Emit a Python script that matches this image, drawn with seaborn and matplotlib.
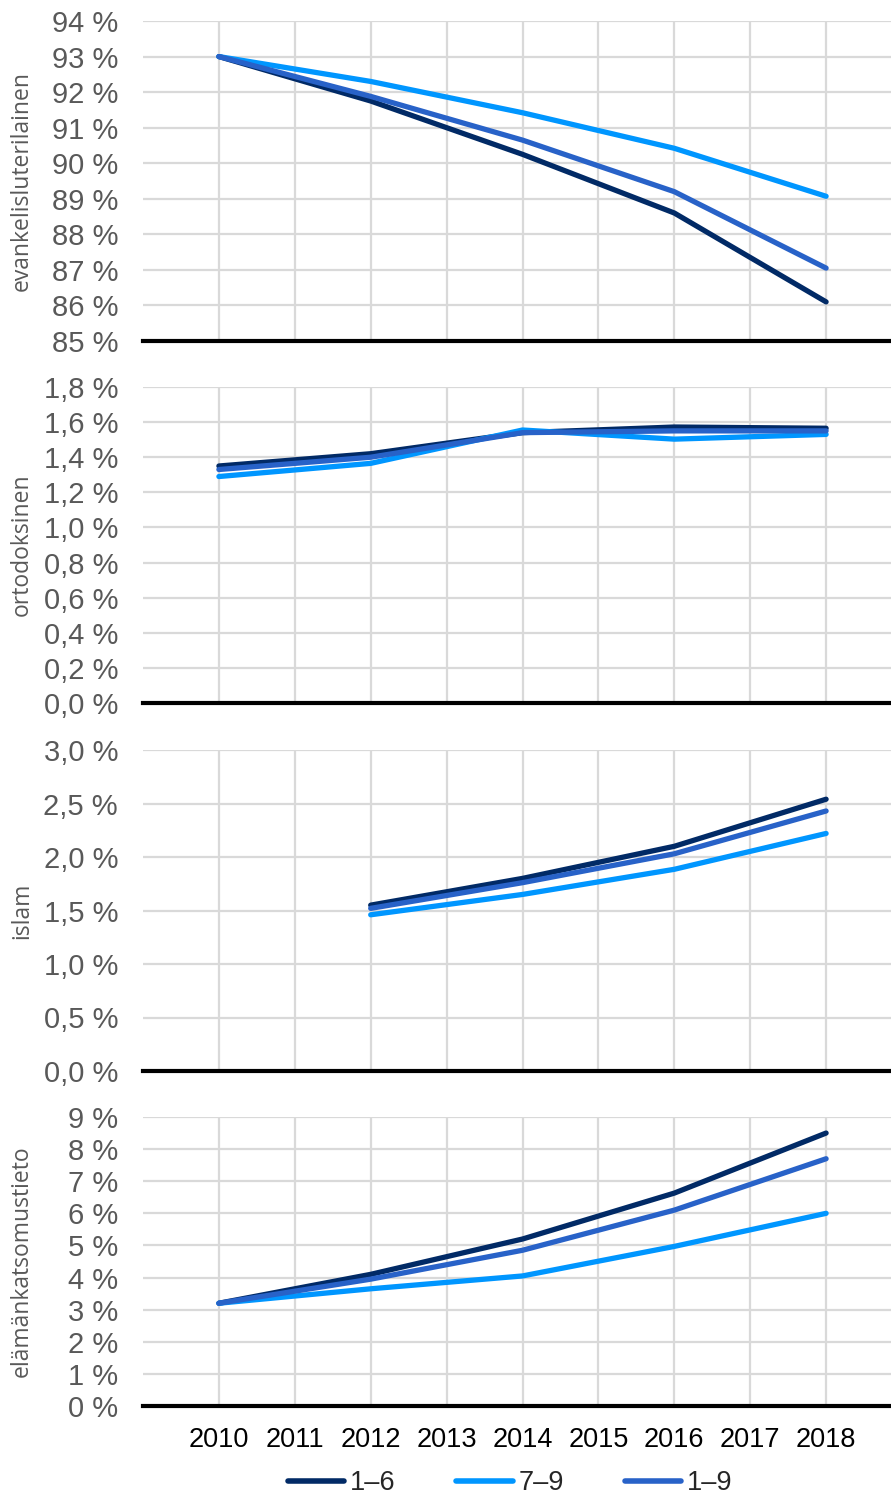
import pandas as pd
import seaborn as sns
import matplotlib
matplotlib.use('Agg')
import matplotlib.pyplot as plt
from matplotlib.ticker import FuncFormatter, MultipleLocator
from matplotlib.lines import Line2D

years = [2010, 2012, 2014, 2016, 2018]
groups = ['1–6', '7–9', '1–9']
colors = ['#012a66', '#0096ff', '#2862c8']

# values in percent
evl_16 = [93.0, 91.75, 90.25, 88.6, 86.1]
evl_79 = [93.0, 92.3, 91.42, 90.42, 89.07]
evl_19 = [93.0, 91.88, 90.65, 89.2, 87.05]

ort_16 = [1.35, 1.42, 1.54, 1.572, 1.565]
ort_79 = [1.29, 1.365, 1.555, 1.503, 1.53]
ort_19 = [1.33, 1.40, 1.54, 1.55, 1.55]

isl_years = [2012, 2014, 2016, 2018]
isl_16 = [1.55, 1.80, 2.10, 2.54]
isl_79 = [1.46, 1.65, 1.885, 2.22]
isl_19 = [1.52, 1.76, 2.03, 2.43]

et_16 = [3.2, 4.1, 5.2, 6.63, 8.5]
et_79 = [3.2, 3.65, 4.05, 4.97, 6.0]
et_19 = [3.2, 3.95, 4.85, 6.1, 7.7]

panels = [
    ('evankelisluterilainen', years, [evl_16, evl_79, evl_19], (85, 94), 1, 0),
    ('ortodoksinen', years, [ort_16, ort_79, ort_19], (0, 1.8), 0.2, 1),
    ('islam', isl_years, [isl_16, isl_79, isl_19], (0, 3.0), 0.5, 1),
    ('elämänkatsomustieto', years, [et_16, et_79, et_19], (0, 9), 1, 0),
]

# pixel rows (top, bottom) of each plot area
rows = [(21, 341), (387, 703), (750, 1071), (1117, 1406)]

sns.set_theme(style='white')
plt.rcParams['font.family'] = ['Liberation Sans', 'DejaVu Sans']

W, H = 891, 1497
fig = plt.figure(figsize=(W / 100, H / 100), dpi=100)

x0, x1 = 143, 902
for (label, yrs, series, ylim, step, dec), (top, bot) in zip(panels, rows):
    ax = fig.add_axes([x0 / W, 1 - bot / H, (x1 - x0) / W, (bot - top) / H])
    df = pd.DataFrame({
        'year': yrs * 3,
        'value': series[0] + series[1] + series[2],
        'group': [g for g in groups for _ in yrs],
    })
    sns.lineplot(data=df, x='year', y='value', hue='group', hue_order=groups,
                 palette=colors, linewidth=3.8, ax=ax, legend=False,
                 solid_capstyle='round')
    ax.set_xlim(2009, 2019)
    ax.set_ylim(*ylim)
    ax.yaxis.set_major_locator(MultipleLocator(step))
    ax.yaxis.set_major_formatter(FuncFormatter(
        lambda v, p, d=dec: (f'{v:.{d}f}'.replace('.', ',')) + ' %'))
    ax.set_xticks(range(2010, 2019))
    ax.grid(True, color='#d9d9d9', linewidth=1.6)
    ax.set_axisbelow(True)
    for s in ['top', 'right', 'left']:
        ax.spines[s].set_visible(False)
    ax.spines['bottom'].set_color('black')
    ax.spines['bottom'].set_linewidth(3)
    ax.spines['bottom'].set_zorder(5)
    ax.tick_params(axis='y', labelsize=21, labelcolor='#595959', length=0, pad=18)
    ax.tick_params(axis='x', length=0)
    ax.set_xlabel('')
    ax.set_ylabel(label, fontsize=16.5, color='#595959', family=['Open Sans', 'DejaVu Sans'])
    ax.yaxis.set_label_coords(-(143 - 34) / (x1 - x0), 0.5)
    if label == 'elämänkatsomustieto':
        ax.tick_params(axis='x', labelsize=19.5, labelcolor='black', pad=15)
    else:
        ax.set_xticklabels([])

handles = [Line2D([0], [0], color=c, linewidth=4, solid_capstyle='round') for c in colors]
fig.legend(handles, groups, loc='center', bbox_to_anchor=(510 / W, 1 - 1483 / H),
           ncol=3, frameon=False, handlelength=2.08, columnspacing=2.27,
           handletextpad=0.2, borderpad=0, prop={'size': 19.5})

fig.savefig('out.png', dpi=100)
